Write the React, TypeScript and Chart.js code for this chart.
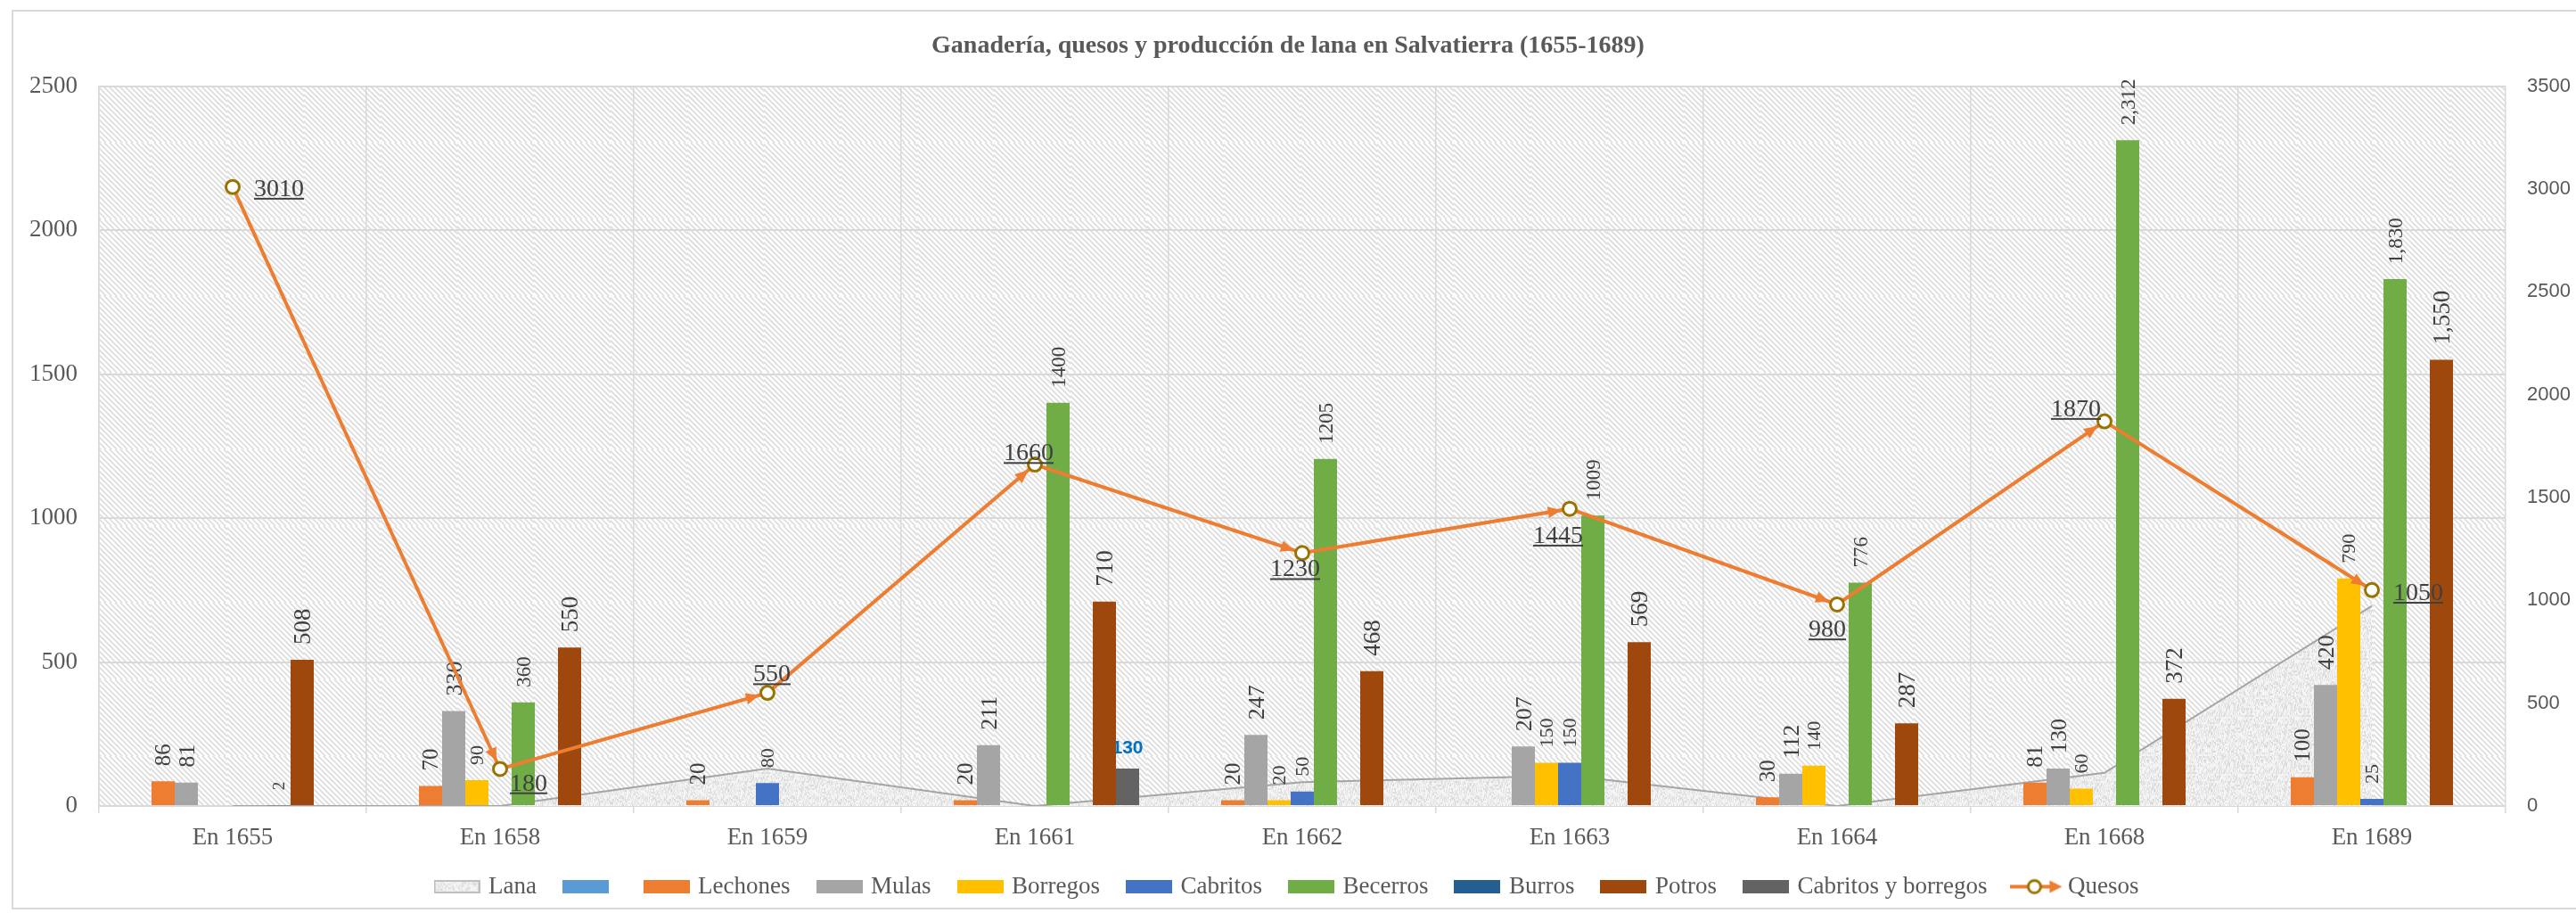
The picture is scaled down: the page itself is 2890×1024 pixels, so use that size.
import React, { useEffect, useRef } from 'react';
import { Chart, registerables } from 'chart.js';

Chart.register(...registerables);

// ---------- data ----------
const categories = ['En 1655', 'En 1658', 'En 1659', 'En 1661', 'En 1662', 'En 1663', 'En 1664', 'En 1668', 'En 1689'];
const lana = [0, 0, 130, 0, 83, 105, 0, 115, 695];
const sinNombre = [null, null, null, null, null, null, null, null, null];
const lechones = [86, 70, 20, 20, 20, null, 30, 81, 100];
const mulas = [81, 330, null, 211, 247, 207, 112, 130, 420];
const borregos = [null, 90, null, null, 20, 150, 140, 60, 790];
const cabritos = [null, null, 80, null, 50, 150, null, null, 25];
const becerros = [null, 360, null, 1400, 1205, 1009, 776, 2312, 1830];
const burros = [2, null, null, null, null, null, null, null, null];
const potros = [508, 550, null, 710, 468, 569, 287, 372, 1550];
const cabritosYBorregos = [null, null, null, 130, null, null, null, null, null];
const quesos = [3010, 180, 550, 1660, 1230, 1445, 980, 1870, 1050];
const commaCategories = ['En 1668', 'En 1689'];
const titleText = 'Ganadería, quesos y producción de lana en Salvatierra (1655-1689)';

// ---------- styling ----------
const quesosLabelOffsets: [number, number][] = [
  [52, 1], [32, 15], [5, -22], [-7, -14], [-8, 17], [-13, 29], [-11, 27], [-32, -15], [52, 2],
];
const barLabelSizes: Record<string, number> = {
  Lechones: 25, Mulas: 26, Borregos: 22, Cabritos: 22, Becerros: 23, Burros: 19, Potros: 27,
};

function makeHatchTile(): HTMLCanvasElement {
  const s = 86;
  const c = document.createElement('canvas');
  c.width = s; c.height = s;
  const g = c.getContext('2d')!;
  g.fillStyle = '#FFFFFF';
  g.fillRect(0, 0, s, s);
  g.strokeStyle = '#DCDCDC';
  g.lineWidth = 1.7;
  for (let k = -s; k < 2 * s; k += 6) {
    g.beginPath();
    g.moveTo(k, 0);
    g.lineTo(k + s, s);
    g.stroke();
  }
  return c;
}

function makeLanaTile(): HTMLCanvasElement {
  const w = 64, h = 64;
  const c = document.createElement('canvas');
  c.width = w; c.height = h;
  const g = c.getContext('2d')!;
  const img = g.createImageData(w, h);
  for (let y = 0; y < h; y++) {
    for (let x = 0; x < w; x++) {
      let n = Math.imul(x, 374761393) + Math.imul(y >> 1, 668265263);
      n = Math.imul(n ^ (n >>> 13), 1274126177);
      const v = ((n ^ (n >>> 16)) >>> 0) % 100;
      const shade = v < 18 ? 218 : v < 55 ? 232 : 245;
      const i = (y * w + x) * 4;
      img.data[i] = shade; img.data[i + 1] = shade; img.data[i + 2] = shade; img.data[i + 3] = 255;
    }
  }
  g.putImageData(img, 0, 0);
  return c;
}

function boxIcon(fill: string | null, stroke?: string, tile?: HTMLCanvasElement): HTMLCanvasElement {
  const c = document.createElement('canvas');
  c.width = 52; c.height = 15;
  const g = c.getContext('2d')!;
  if (tile) {
    g.fillStyle = g.createPattern(tile, 'repeat')!;
  } else {
    g.fillStyle = fill as string;
  }
  g.fillRect(0, 0, 52, 15);
  if (stroke) {
    g.strokeStyle = stroke;
    g.lineWidth = 2;
    g.strokeRect(1, 1, 50, 13);
  }
  return c;
}

function quesosIcon(): HTMLCanvasElement {
  const c = document.createElement('canvas');
  c.width = 58; c.height = 22;
  const g = c.getContext('2d')!;
  g.strokeStyle = '#ED7D31';
  g.lineWidth = 4;
  g.beginPath(); g.moveTo(0, 11); g.lineTo(46, 11); g.stroke();
  g.fillStyle = '#ED7D31';
  g.beginPath(); g.moveTo(58, 11); g.lineTo(44, 4); g.lineTo(44, 18); g.closePath(); g.fill();
  g.beginPath(); g.arc(27, 11, 7, 0, Math.PI * 2);
  g.fillStyle = '#FFFFFF'; g.fill();
  g.lineWidth = 3; g.strokeStyle = '#997300'; g.stroke();
  return c;
}

const fmt = (v: number, cat: string) => (commaCategories.includes(cat) ? v.toLocaleString('en-US') : String(v));

export default function App() {
  const ref = useRef<HTMLCanvasElement>(null);

  useEffect(() => {
    const canvas = ref.current!;
    const ctx = canvas.getContext('2d')!;
    const hatch = ctx.createPattern(makeHatchTile(), 'repeat')!;
    try { hatch.setTransform(new DOMMatrix().translate(83, 74)); } catch (e) { /* ignore */ }
    const lanaTile = makeLanaTile();
    const lanaPattern = ctx.createPattern(lanaTile, 'repeat')!;

    const barSeries = [
      { label: '', data: sinNombre, color: '#5B9BD5' },
      { label: 'Lechones', data: lechones, color: '#ED7D31' },
      { label: 'Mulas', data: mulas, color: '#A5A5A5' },
      { label: 'Borregos', data: borregos, color: '#FFC000' },
      { label: 'Cabritos', data: cabritos, color: '#4472C4' },
      { label: 'Becerros', data: becerros, color: '#70AD47' },
      { label: 'Burros', data: burros, color: '#255E91' },
      { label: 'Potros', data: potros, color: '#9E480E' },
      { label: 'Cabritos y borregos', data: cabritosYBorregos, color: '#636363' },
    ];

    const datasets: any[] = [
      {
        type: 'line', label: 'Lana', data: lana, yAxisID: 'y', order: 3,
        fill: 'origin', backgroundColor: lanaPattern, borderColor: '#A5A5A5', borderWidth: 2,
        pointRadius: 0, tension: 0,
      },
      ...barSeries.map((s) => ({
        type: 'bar', label: s.label, data: s.data, backgroundColor: s.color, yAxisID: 'y', order: 2,
        categoryPercentage: 0.78, barPercentage: 1,
      })),
      {
        type: 'line', label: 'Quesos', data: quesos, yAxisID: 'y1', order: 1,
        borderColor: '#ED7D31', borderWidth: 4, pointRadius: 7.5, pointBorderWidth: 3,
        pointBorderColor: '#997300', pointBackgroundColor: '#FFFFFF', tension: 0, fill: false,
      },
    ];

    const icons: HTMLCanvasElement[] = [
      boxIcon(null, '#BFBFBF', lanaTile),
      ...barSeries.map((s) => boxIcon(s.color)),
      quesosIcon(),
    ];

    const decor = {
      id: 'decor',
      beforeDraw(chart: any) {
        const { ctx: c, chartArea: a } = chart;
        c.save();
        c.fillStyle = '#FFFFFF';
        c.fillRect(0, 0, chart.width, chart.height);
        c.strokeStyle = '#D9D9D9';
        c.lineWidth = 2;
        c.beginPath();
        c.moveTo(chart.width, 12); c.lineTo(14, 12); c.lineTo(14, 1019); c.lineTo(chart.width, 1019);
        c.stroke();
        c.fillStyle = hatch;
        c.fillRect(a.left, a.top, a.right - a.left, a.bottom - a.top);
        c.restore();
      },
      afterDatasetDraw(chart: any, args: any) {
        const c = chart.ctx;
        const meta = args.meta;
        const ds = chart.data.datasets[args.index];
        if (meta.type === 'bar') {
          meta.data.forEach((el: any, j: number) => {
            const v = ds.data[j];
            if (v == null) return;
            const { x, y } = el.getProps(['x', 'y'], true);
            c.save();
            if (ds.label === 'Cabritos y borregos') {
              const size = 21;
              c.font = `bold ${size}px "Liberation Sans"`;
              c.fillStyle = '#0070C0';
              c.textAlign = 'center';
              c.textBaseline = 'alphabetic';
              c.fillText(fmt(v, categories[j]), x, y - 25 + 0.36 * size);
            } else {
              const size = barLabelSizes[ds.label];
              if (!size) { c.restore(); return; }
              c.translate(x, y - 17);
              c.rotate(-Math.PI / 2);
              c.font = `${size}px "Liberation Serif"`;
              c.fillStyle = '#404040';
              c.textAlign = 'left';
              c.textBaseline = 'alphabetic';
              c.fillText(fmt(v, categories[j]), 0, 0.33 * size);
            }
            c.restore();
          });
        }
        if (ds.label === 'Quesos') {
          const pts = meta.data;
          c.save();
          c.fillStyle = '#ED7D31';
          for (let j = 1; j < pts.length; j++) {
            const p0 = pts[j - 1], p1 = pts[j];
            const dx = p1.x - p0.x, dy = p1.y - p0.y;
            const len = Math.hypot(dx, dy) || 1;
            const ux = dx / len, uy = dy / len;
            const tx = p1.x - ux * 9.5, ty = p1.y - uy * 9.5;
            const bx = tx - ux * 15, by = ty - uy * 15;
            c.beginPath();
            c.moveTo(tx, ty);
            c.lineTo(bx - uy * 6.5, by + ux * 6.5);
            c.lineTo(bx + uy * 6.5, by - ux * 6.5);
            c.closePath();
            c.fill();
          }
          const size = 28;
          c.font = `${size}px "Liberation Serif"`;
          c.fillStyle = '#404040';
          c.textAlign = 'center';
          c.textBaseline = 'alphabetic';
          pts.forEach((p: any, j: number) => {
            const [ox, oy] = quesosLabelOffsets[j];
            const text = String(ds.data[j]);
            const w = c.measureText(text).width;
            const cx = p.x + ox, cy = p.y + oy;
            const base = cy + 0.33 * size;
            c.fillText(text, cx, base);
            c.fillRect(cx - w / 2, base + 2, w, 2);
          });
          c.restore();
        }
      },
    };

    const chart = new Chart(canvas, {
      type: 'bar',
      data: { labels: categories, datasets },
      options: {
        responsive: false,
        animation: false,
        devicePixelRatio: 1,
        layout: { padding: { left: 0, right: 0, top: 0, bottom: 6 } },
        plugins: {
          tooltip: { enabled: false },
          title: {
            display: true,
            text: titleText,
            color: '#595959',
            font: { family: 'Liberation Serif', size: 28, weight: 'bold' },
            padding: { top: 35, bottom: 28 },
          },
          legend: {
            display: true,
            position: 'bottom',
            labels: {
              usePointStyle: true,
              pointStyleWidth: 44,
              boxHeight: 15,
              padding: 33,
              color: '#595959',
              font: { family: 'Liberation Serif', size: 27 },
              generateLabels: (ch: any) =>
                ch.data.datasets.map((d: any, i: number) => ({
                  text: d.label,
                  pointStyle: icons[i],
                  fillStyle: 'rgba(0,0,0,0)',
                  strokeStyle: 'rgba(0,0,0,0)',
                  lineWidth: 0,
                  hidden: false,
                  datasetIndex: i,
                  fontColor: '#595959',
                })),
            },
          },
        },
        scales: {
          x: {
            type: 'category',
            offset: true,
            grid: { color: '#D9D9D9', lineWidth: 1.5, tickLength: 8, offset: true, drawTicks: true },
            border: { color: '#D9D9D9', width: 2 },
            ticks: {
              color: '#595959', font: { family: 'Liberation Serif', size: 27 }, padding: 12,
              maxRotation: 0, autoSkip: false,
            },
            afterFit: (s: any) => { s.height = 44; },
          },
          y: {
            position: 'left',
            min: 0,
            max: 2500,
            ticks: {
              stepSize: 500, color: '#595959', font: { family: 'Liberation Serif', size: 27 }, padding: 24,
              callback: (v: any) => String(v),
            },
            grid: { color: '#D9D9D9', lineWidth: 2, drawTicks: false },
            border: { color: '#D9D9D9', width: 1.5 },
            afterFit: (s: any) => { s.width = 111; },
          },
          y1: {
            position: 'right',
            min: 0,
            max: 3500,
            ticks: {
              stepSize: 500, color: '#595959', font: { family: 'Liberation Sans', size: 22 }, padding: 24,
              callback: (v: any) => String(v),
            },
            grid: { display: false, drawTicks: false },
            border: { display: false },
            afterFit: (s: any) => { s.width = 79; },
          },
        },
      } as any,
      plugins: [decor as any],
    });

    return () => chart.destroy();
  }, []);

  return (
    <div style={{ position: 'absolute', left: 0, top: 0, width: 2890, height: 1024 }}>
      <canvas ref={ref} width={2890} height={1024} style={{ display: 'block' }} />
    </div>
  );
}
